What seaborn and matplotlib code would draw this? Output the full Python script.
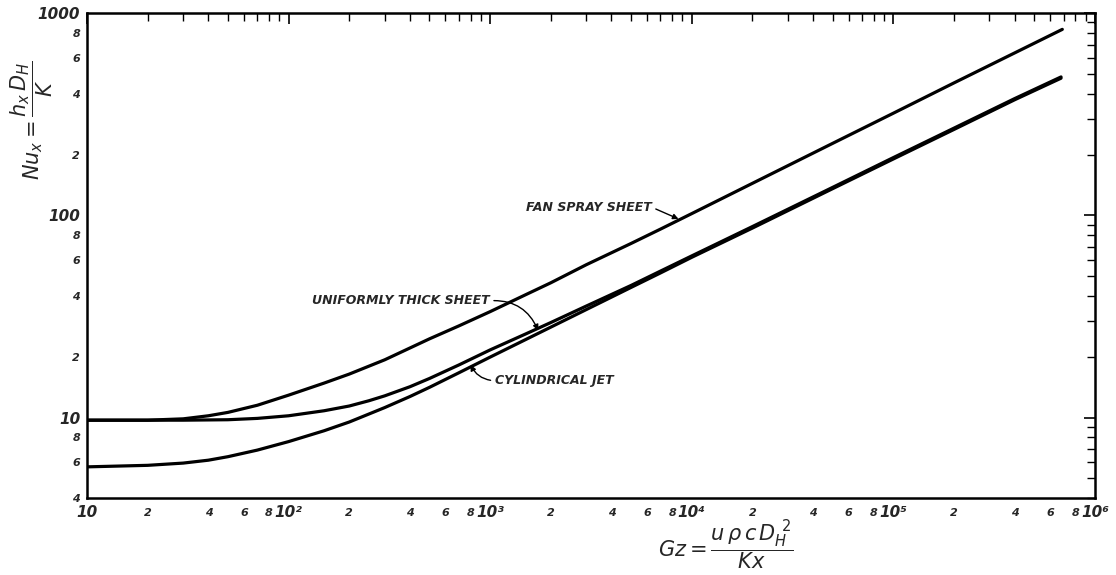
import numpy as np
import pandas as pd
import matplotlib
matplotlib.use("Agg")
import matplotlib.pyplot as plt
import seaborn as sns

# ----------------------------
# DATA
# ----------------------------
fan_gz = [10, 20, 30, 40, 50, 70, 100, 150, 200, 300, 500, 700, 1e3, 1.5e3, 2e3, 3e3,
          5e3, 7e3, 1e4, 2e4, 5e4, 1e5, 2e5, 4e5, 6.9e5]
fan_nu = [9.7, 9.7, 9.85, 10.2, 10.6, 11.5, 12.9, 14.8, 16.4, 19.3, 24.5, 28.4, 33.4, 40.5,
          46.4, 57, 72.6, 85.5, 102, 144, 227, 320, 452, 636, 832]

uni_gz = [10, 30, 50, 70, 100, 150, 200, 250, 300, 400, 500, 700, 1e3, 1.5e3, 2e3, 3e3,
          5e3, 7e3, 1e4, 2e4, 5e4, 1e5, 2e5, 4e5, 6.8e5]
uni_nu = [9.7, 9.7, 9.75, 9.9, 10.2, 10.8, 11.4, 12.1, 12.8, 14.2, 15.6, 18.2, 21.6, 25.9,
          29.5, 35.6, 45, 53, 63, 88, 137.5, 193, 270, 378, 484]

cyl_gz = [10, 20, 30, 40, 50, 70, 100, 150, 200, 250, 300, 400, 500, 700, 1e3, 1.5e3, 2e3,
          3e3, 5e3, 7e3, 1e4, 2e4, 5e4, 1e5, 2e5, 4e5, 6.8e5]
cyl_nu = [5.7, 5.8, 5.95, 6.15, 6.4, 6.9, 7.6, 8.6, 9.5, 10.4, 11.2, 12.7, 14.1, 16.65,
          19.9, 24.3, 28.0, 34.2, 44.0, 51.9, 62, 86.5, 135.5, 190, 266, 373, 477]

x_major = [10, 1e2, 1e3, 1e4, 1e5, 1e6]
x_major_labels = ["10", "10²", "10³", "10⁴", "10⁵", "10⁶"]
y_major = [10, 100, 1000]
y_major_labels = ["10", "100", "1000"]

# ----------------------------
# PLOT
# ----------------------------
sns.set_style("white")
plt.rcParams["font.family"] = ["DejaVu Sans"]
plt.rcParams["mathtext.fontset"] = "dejavusans"

fig = plt.figure(figsize=(11.16, 5.75), dpi=100)
ax = fig.add_axes([0.078, 0.134, 0.903, 0.843])

df = pd.concat([
    pd.DataFrame({"Gz": fan_gz, "Nu": fan_nu, "curve": "fan"}),
    pd.DataFrame({"Gz": uni_gz, "Nu": uni_nu, "curve": "uniform"}),
    pd.DataFrame({"Gz": cyl_gz, "Nu": cyl_nu, "curve": "cyl"}),
])
sns.lineplot(data=df, x="Gz", y="Nu", units="curve", estimator=None, sort=False,
             color="black", lw=2.3, ax=ax, legend=False)

ax.set_xscale("log")
ax.set_yscale("log")
ax.set_xlim(10, 1e6)
ax.set_ylim(4, 1000)

# minor ticks: 2..9 in every decade, labels on even ones
x_minor, x_minor_labels = [], []
for d in range(1, 6):
    for m in range(2, 10):
        x_minor.append(m * 10 ** d)
        x_minor_labels.append(str(m) if m % 2 == 0 else "")
y_minor, y_minor_labels = [], []
for d in range(0, 3):
    for m in range(2, 10):
        v = m * 10 ** d
        if v < 4:
            continue
        y_minor.append(v)
        y_minor_labels.append(str(m) if m % 2 == 0 else "")

lab = dict(fontstyle="italic", fontweight="bold")
ax.set_xticks(x_major, x_major_labels, fontsize=11, **lab)
ax.set_xticks(x_minor, x_minor_labels, minor=True, fontsize=8, **lab)
ax.set_yticks(y_major, y_major_labels, fontsize=11, **lab)
ax.set_yticks(y_minor, y_minor_labels, minor=True, fontsize=8, **lab)
ax.set_xlabel("")
ax.set_ylabel("")

ax.tick_params(which="both", direction="in", top=True, right=True, color="black")
ax.tick_params(which="major", length=8, width=1.2, pad=5)
ax.tick_params(which="minor", length=6, width=1.0, pad=5)
ax.tick_params(axis="x", which="minor", pad=7)
ax.tick_params(axis="x", which="major", pad=5)
for s in ax.spines.values():
    s.set_linewidth(1.8)
    s.set_color("black")

# ----------------------------
# ANNOTATIONS
# ----------------------------
txt = dict(fontsize=9, fontstyle="italic", fontweight="bold", va="center")
arrow = dict(arrowstyle="-|>", color="black", lw=1.0, mutation_scale=8, shrinkA=1, shrinkB=0)

ax.annotate("FAN SPRAY SHEET", xy=(8600, 96), xytext=(6300, 110), ha="right",
            arrowprops=dict(arrow, relpos=(1, 0.5)), **txt)
ax.annotate("UNIFORMLY THICK SHEET", xy=(1730, 27.0), xytext=(990, 37.8), ha="right",
            arrowprops=dict(arrow, relpos=(1, 0.5), connectionstyle="arc3,rad=-0.35"), **txt)
ax.annotate("CYLINDRICAL JET", xy=(800, 18.2), xytext=(1060, 15.2), ha="left",
            arrowprops=dict(arrow, relpos=(0, 0.5), connectionstyle="arc3,rad=-0.3"), **txt)

fig.text(0.029, 0.79, r"$Nu_x = \dfrac{h_x\,D_H}{K}$", rotation=90,
         ha="center", va="center", fontsize=15)
fig.text(0.65, 0.052, r"$Gz = \dfrac{u\,\rho\,c\,D_H^{\ 2}}{K x}$",
         ha="center", va="center", fontsize=15)

fig.savefig("out.png", dpi=100)
